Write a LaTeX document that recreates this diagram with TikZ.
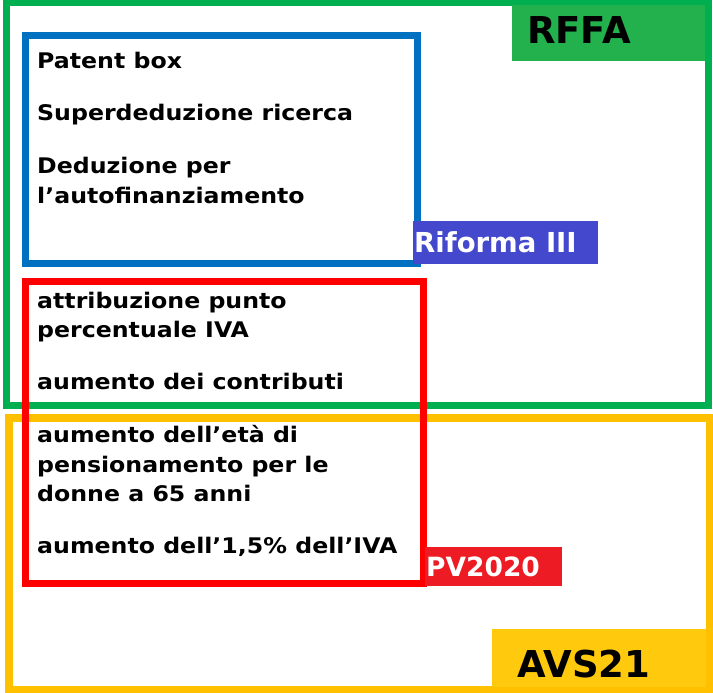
\documentclass[tikz,border=0pt]{standalone}
\usepackage{fontspec}
\setmainfont{DejaVu Sans}
\newfontfamily\widefont[FakeStretch=1.1]{DejaVu Sans}
\definecolor{gline}{HTML}{00B050}
\definecolor{gfill}{HTML}{22B14C}
\definecolor{bline}{HTML}{0070C0}
\definecolor{bfill}{HTML}{4348CC}
\definecolor{rline}{HTML}{FF0000}
\definecolor{rfill}{HTML}{ED1C24}
\definecolor{yline}{HTML}{FFC000}
\definecolor{yfill}{HTML}{FFC90E}
\begin{document}
\begin{tikzpicture}[x=1pt,y=-1pt,
  frame/.style={draw,rectangle,inner sep=0pt,outer sep=0pt},
  tagbox/.style={rectangle,inner sep=0pt,outer sep=0pt},
  item/.style={anchor=base west,inner sep=0pt,font=\widefont\fontsize{21.5}{24}\selectfont\bfseries},
  bigtag/.style={anchor=base west,inner sep=0pt,font=\fontsize{37}{40}\selectfont\bfseries},
  midtag/.style={anchor=base west,inner sep=0pt,text=white,font=\fontsize{27.5}{30}\selectfont\bfseries},
  smalltag/.style={anchor=base west,inner sep=0pt,text=white,font=\fontsize{26.5}{28}\selectfont\bfseries}]
\useasboundingbox[fill=white] (0,0) rectangle (713,693);
% frames
\node[frame,draw=gline,line width=7pt,minimum width=702pt,minimum height=402pt] (rffaframe) at (357,204) {};
\node[frame,draw=yline,line width=8pt,minimum width=701pt,minimum height=272pt] (avsframe) at (359,554) {};
\node[frame,draw=bline,line width=7pt,minimum width=392pt,minimum height=227pt] (rifframe) at (221,149.5) {};
\node[frame,draw=rline,line width=7pt,minimum width=398.5pt,minimum height=302pt] (pvframe) at (224.25,432) {};
% tags
\node[tagbox,fill=gfill,minimum width=193pt,minimum height=56pt] (rffatag) at (608.5,33) {};
\node[bigtag] (rffatext) at (527,44) {RFFA};
\node[tagbox,fill=bfill,minimum width=185pt,minimum height=43pt] (riftag) at (505.5,242.5) {};
\node[midtag] (riftext) at (414,252) {Riforma III};
\node[tagbox,fill=rfill,minimum width=137pt,minimum height=39pt] (pvtag) at (493.5,566.5) {};
\node[smalltag] (pvtext) at (426,576) {PV2020};
\node[tagbox,fill=yfill,minimum width=214pt,minimum height=58pt] (avstag) at (599,658) {};
\node[bigtag] (avstext) at (517,677) {AVS21};
% items
\node[item] (i1) at (37,69) {Patent box};
\node[item] (i2) at (37,121) {Superdeduzione ricerca};
\node[item] (i3a) at (37,173) {Deduzione per};
\node[item] (i3b) at (37,203) {l’autofinanziamento};
\node[item] (j1a) at (37,308) {attribuzione punto};
\node[item] (j1b) at (37,337) {percentuale IVA};
\node[item] (j2) at (37,389) {aumento dei contributi};
\node[item] (j3a) at (37,442) {aumento dell’età di};
\node[item] (j3b) at (37,472) {pensionamento per le};
\node[item] (j3c) at (37,501) {donne a 65 anni};
\node[item] (j4) at (37,553) {aumento dell’1,5\% dell’IVA};
\end{tikzpicture}
\end{document}
